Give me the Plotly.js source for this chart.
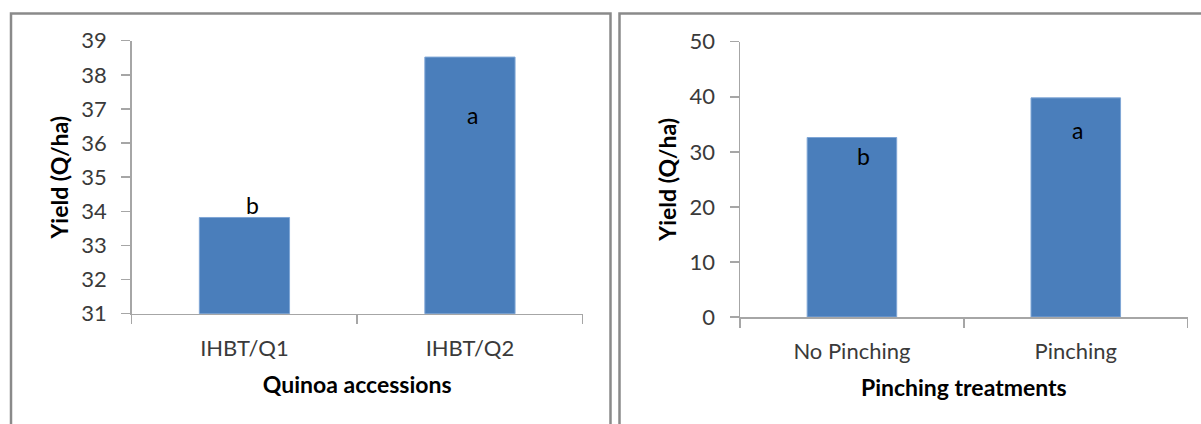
<!DOCTYPE html>
<html>
<head>
<meta charset="utf-8">
<script src="https://cdn.plot.ly/plotly-3.0.1.min.js"></script>
<style>
  html, body { margin: 0; padding: 0; background: #ffffff; }
  #chart { width: 1201px; height: 424px; }
</style>
</head>
<body>
<div id="chart"></div>
<script>
// ---- Data ----
const accessions = ["IHBT/Q1", "IHBT/Q2"];
const accessionYield = [33.82, 38.52];
const accessionLetters = ["b", "a"];

const pinching = ["No Pinching", "Pinching"];
const pinchingYield = [32.6, 39.8];
const pinchingLetters = ["b", "a"];

const yTitle = "Yield (Q/ha)";
const xTitleLeft = "Quinoa accessions";
const xTitleRight = "Pinching treatments";

// ---- Styles ----
const FONT = "Lato, 'Open Sans', sans-serif";
const BAR = "#4A7EBB";
const AXIS = "#A6A6A6";
const TICKFONT = {family: FONT, size: 22, color: "#3a3a3a"};
const TITLEFONT = {family: FONT, size: 23, color: "#000000", weight: "bold"};

const traces = [
  {type: "bar", x: accessions, y: accessionYield, xaxis: "x", yaxis: "y",
   marker: {color: BAR, line: {color: "#7FA6D6", width: 1}}, width: 0.4,
   hoverinfo: "x+y", showlegend: false},
  {type: "bar", x: pinching, y: pinchingYield, xaxis: "x2", yaxis: "y2",
   marker: {color: BAR, line: {color: "#7FA6D6", width: 1}}, width: 0.4,
   hoverinfo: "x+y", showlegend: false}
];

function xAxis(domain, title, anchor) {
  return {
    domain: domain, anchor: anchor, type: "category",
    showline: true, linecolor: AXIS, linewidth: 1.5,
    ticks: "outside", tickson: "boundaries", ticklen: 9, tickcolor: AXIS, tickwidth: 1.5,
    tickfont: TICKFONT, ticklabelstandoff: 14,
    showgrid: false, zeroline: false, fixedrange: true,
    title: {text: title, font: TITLEFONT, standoff: 17}
  };
}
function yAxis(domain, range, dtick, anchor) {
  return {
    domain: domain, anchor: anchor, range: range, dtick: dtick, tick0: 0,
    showline: true, linecolor: AXIS, linewidth: 1.5,
    ticks: "outside", ticklen: 9, tickcolor: AXIS, tickwidth: 1.5,
    tickfont: TICKFONT, ticklabelstandoff: 10,
    showgrid: false, zeroline: false, fixedrange: true,
    title: {text: yTitle, font: TITLEFONT, standoff: 6}
  };
}

// letter annotations tied to bar values (pixel offsets only for placement)
const leftShifts = [[8, 12], [3, -58]];
const rightShifts = [[12, -18], [2, -32]];
const annotations = [];
accessions.forEach((c, i) => annotations.push({
  x: c, y: accessionYield[i], xref: "x", yref: "y", text: accessionLetters[i],
  showarrow: false, xshift: leftShifts[i][0], yshift: leftShifts[i][1],
  font: {family: FONT, size: 23, color: "#000"}
}));
pinching.forEach((c, i) => annotations.push({
  x: c, y: pinchingYield[i], xref: "x2", yref: "y2", text: pinchingLetters[i],
  showarrow: false, xshift: rightShifts[i][0], yshift: rightShifts[i][1],
  font: {family: FONT, size: 23, color: "#000"}
}));

const W = 1201, H = 424;
const px = v => v / W, py = v => 1 - v / H;

const layout = {
  width: W, height: H,
  margin: {l: 0, r: 0, t: 0, b: 0},
  paper_bgcolor: "#ffffff", plot_bgcolor: "#ffffff",
  bargap: 0.6,
  xaxis: xAxis([px(131.7), px(582.7)], xTitleLeft, "y"),
  yaxis: yAxis([py(313.7), py(40.7)], [31, 39], 1, "x"),
  xaxis2: xAxis([px(740), px(1187.7)], xTitleRight, "y2"),
  yaxis2: yAxis([py(317), py(41.7)], [0, 50], 10, "x2"),
  annotations: annotations,
  shapes: [
    {type: "rect", xref: "paper", yref: "paper", x0: px(11), x1: px(610.5), y0: py(440), y1: py(13.5),
     line: {color: "#8A8A8A", width: 2.5}, fillcolor: "rgba(0,0,0,0)"},
    {type: "rect", xref: "paper", yref: "paper", x0: px(619.5), x1: px(1210), y0: py(440), y1: py(13.5),
     line: {color: "#8A8A8A", width: 2.5}, fillcolor: "rgba(0,0,0,0)"}
  ]
};

Plotly.newPlot("chart", traces, layout, {displayModeBar: false, staticPlot: true});
</script>
</body>
</html>
